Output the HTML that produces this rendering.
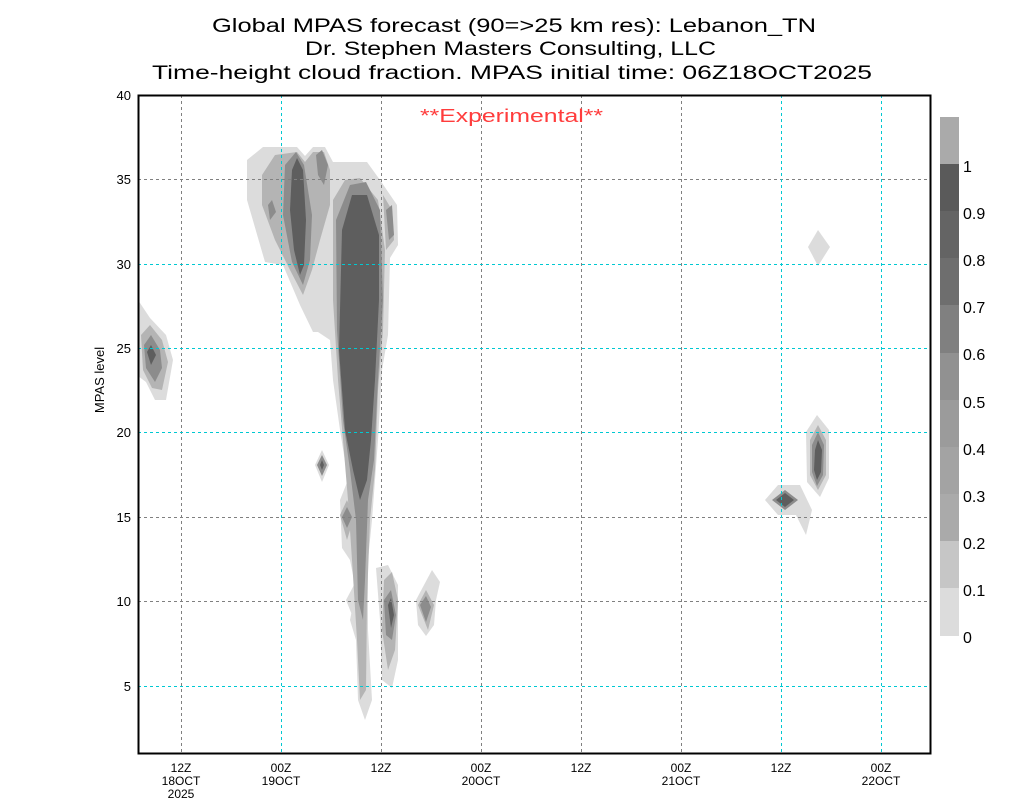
<!DOCTYPE html>
<html><head><meta charset="utf-8"><style>
body{margin:0;background:#fff;}
svg{display:block;font-family:"Liberation Sans",sans-serif;}
</style></head><body>
<svg width="1024" height="800" viewBox="0 0 1024 800" xmlns="http://www.w3.org/2000/svg">
<rect width="1024" height="800" fill="#fff"/>
<g font-size="19" fill="#000" xml:space="preserve">
<text x="212" y="32" textLength="604" lengthAdjust="spacingAndGlyphs">Global MPAS forecast (90=&gt;25 km res): Lebanon_TN</text>
<text x="305" y="55" textLength="411" lengthAdjust="spacingAndGlyphs">Dr. Stephen Masters Consulting, LLC</text>
<text x="152" y="79" textLength="720" lengthAdjust="spacingAndGlyphs">Time-height cloud fraction.   MPAS initial time: 06Z18OCT2025</text>
</g>
<g stroke="none">
<g fill="#dcdcdc">
<polygon points="138,300 150,318 166,335 173,360 166,400 155,400 146,382 138,376"/>
<polygon points="247,160 263,147 297,147 305,156 313,147 325,147 333,162 367,162 380,180 397,205 398,245 390,258 388,335 382,370 378,440 375,480 372,520 368,560 368,630 372,700 365,720 358,700 356,640 350,620 356,590 350,560 342,548 340,500 348,480 340,430 333,380 330,340 318,332 313,332 300,305 283,265 265,262 247,200"/>
<polygon points="376,568 388,565 398,585 398,660 392,688 382,680 380,620"/>
<polygon points="346,600 354,585 362,600 354,620"/>
<polygon points="416,600 424,585 432,570 440,582 436,600 434,625 426,636 418,625"/>
<polygon points="315,465 322,450 329,465 322,482"/>
<polygon points="765,500 778,485 800,485 812,510 806,535 796,515 778,515"/>
<polygon points="806,432 817,415 829,430 829,478 820,497 807,482"/>
<polygon points="808,247 818,230 830,247 818,266"/>
</g>
<g fill="#b4b4b4">
<polygon points="141,335 150,325 162,340 168,362 162,390 152,388 143,370"/>
<polygon points="262,175 275,155 297,152 305,162 313,152 324,152 330,170 330,205 320,240 312,270 303,295 290,270 275,240 262,205"/>
<polygon points="333,200 345,180 360,178 378,200 385,250 383,330 378,390 375,470 370,520 367,600 366,690 360,700 357,640 352,560 348,500 343,440 338,380 333,300"/>
<polygon points="383,195 392,210 394,240 386,250"/>
<polygon points="384,580 392,572 398,600 395,650 388,670 382,630"/>
<polygon points="418,605 426,590 434,605 428,630"/>
<polygon points="340,515 347,500 354,517 347,540"/>
<polygon points="810,440 818,425 826,440 826,475 818,490 810,475"/>
</g>
<g fill="#8c8c8c">
<polygon points="144,345 151,335 160,350 162,368 155,382 146,368"/>
<polygon points="285,165 296,152 304,165 312,215 310,260 303,285 292,262 283,215"/>
<polygon points="316,155 322,150 328,165 324,185 318,175"/>
<polygon points="268,205 272,200 276,212 270,220"/>
<polygon points="336,220 350,185 366,182 380,210 383,300 378,380 374,460 368,500 365,580 363,620 358,600 356,520 350,470 343,420 337,330"/>
<polygon points="384,600 391,590 396,615 392,640 386,635"/>
<polygon points="386,210 392,205 394,235 389,240"/>
<polygon points="317,465 322,455 327,465 322,476"/>
<polygon points="342,517 347,507 352,517 347,528"/>
<polygon points="772,500 785,490 798,500 785,510"/>
<polygon points="812,445 818,432 824,445 823,475 817,486 812,472"/>
<polygon points="420,605 426,596 431,607 426,622"/>
</g>
<g fill="#5e5e5e">
<polygon points="147,352 151,345 156,355 151,365"/>
<polygon points="292,170 297,158 303,170 306,220 304,265 300,275 294,250 290,210"/>
<polygon points="342,230 352,195 367,195 379,235 379,300 375,380 371,440 367,480 360,500 353,470 345,430 339,350"/>
<polygon points="388,605 391,598 394,615 391,628"/>
<polygon points="776,500 785,493 794,500 785,507"/>
<polygon points="815,450 818,440 822,450 821,472 817,480 814,470"/>
<polygon points="320,465 322,460 324,465 322,470"/>
</g>
</g>
<g stroke-width="1" stroke-dasharray="3,3" fill="none">
<g stroke="#808080">
<line x1="138" y1="179.5" x2="930" y2="179.5"/>
<line x1="138" y1="517.5" x2="930" y2="517.5"/>
<line x1="138" y1="601.5" x2="930" y2="601.5"/>
<line x1="181.5" y1="95" x2="181.5" y2="753"/>
<line x1="381.5" y1="95" x2="381.5" y2="753"/>
<line x1="481.5" y1="95" x2="481.5" y2="753"/>
<line x1="581.5" y1="95" x2="581.5" y2="753"/>
<line x1="681.5" y1="95" x2="681.5" y2="753"/>
</g>
<g stroke="#00c8d2">
<line x1="138" y1="264.5" x2="930" y2="264.5"/>
<line x1="138" y1="348.5" x2="930" y2="348.5"/>
<line x1="138" y1="432.5" x2="930" y2="432.5"/>
<line x1="138" y1="686.5" x2="930" y2="686.5"/>
<line x1="281.5" y1="95" x2="281.5" y2="753"/>
<line x1="781.5" y1="95" x2="781.5" y2="753"/>
<line x1="881.5" y1="95" x2="881.5" y2="753"/>
</g>
</g>
<rect x="138.5" y="95.5" width="792" height="658" fill="none" stroke="#000" stroke-width="2"/>
<text x="420" y="122" font-size="18" fill="#ff3c3c" textLength="183" lengthAdjust="spacingAndGlyphs">**Experimental**</text>
<g font-size="13" text-anchor="end">
<text x="131" y="100">40</text><text x="131" y="184">35</text><text x="131" y="269">30</text>
<text x="131" y="353">25</text><text x="131" y="437">20</text><text x="131" y="522">15</text>
<text x="131" y="606">10</text><text x="131" y="691">5</text>
</g>
<text transform="translate(104,380) rotate(-90)" font-size="13" text-anchor="middle">MPAS level</text>
<g font-size="12" text-anchor="middle">
<text x="181" y="772">12Z</text><text x="181" y="785">18OCT</text><text x="181" y="798">2025</text>
<text x="281" y="772">00Z</text><text x="281" y="785">19OCT</text>
<text x="381" y="772">12Z</text>
<text x="481" y="772">00Z</text><text x="481" y="785">20OCT</text>
<text x="581" y="772">12Z</text>
<text x="681" y="772">00Z</text><text x="681" y="785">21OCT</text>
<text x="781" y="772">12Z</text>
<text x="881" y="772">00Z</text><text x="881" y="785">22OCT</text>
</g>
<g>
<rect x="940" y="117" width="19" height="48" fill="#aaaaaa"/>
<rect x="940" y="164" width="19" height="48" fill="#5a5a5a"/>
<rect x="940" y="211" width="19" height="48" fill="#646464"/>
<rect x="940" y="258" width="19" height="48" fill="#6e6e6e"/>
<rect x="940" y="305" width="19" height="48" fill="#808080"/>
<rect x="940" y="353" width="19" height="48" fill="#919191"/>
<rect x="940" y="400" width="19" height="48" fill="#9b9b9b"/>
<rect x="940" y="447" width="19" height="48" fill="#a3a3a3"/>
<rect x="940" y="494" width="19" height="48" fill="#aaaaaa"/>
<rect x="940" y="541" width="19" height="48" fill="#c6c6c6"/>
<rect x="940" y="588" width="19" height="48" fill="#dcdcdc"/>
</g>
<g font-size="16">
<text x="963" y="172">1</text><text x="963" y="219">0.9</text><text x="963" y="266">0.8</text>
<text x="963" y="313">0.7</text><text x="963" y="360">0.6</text><text x="963" y="408">0.5</text>
<text x="963" y="455">0.4</text><text x="963" y="502">0.3</text><text x="963" y="549">0.2</text>
<text x="963" y="596">0.1</text><text x="963" y="643">0</text>
</g>
</svg>
</body></html>
